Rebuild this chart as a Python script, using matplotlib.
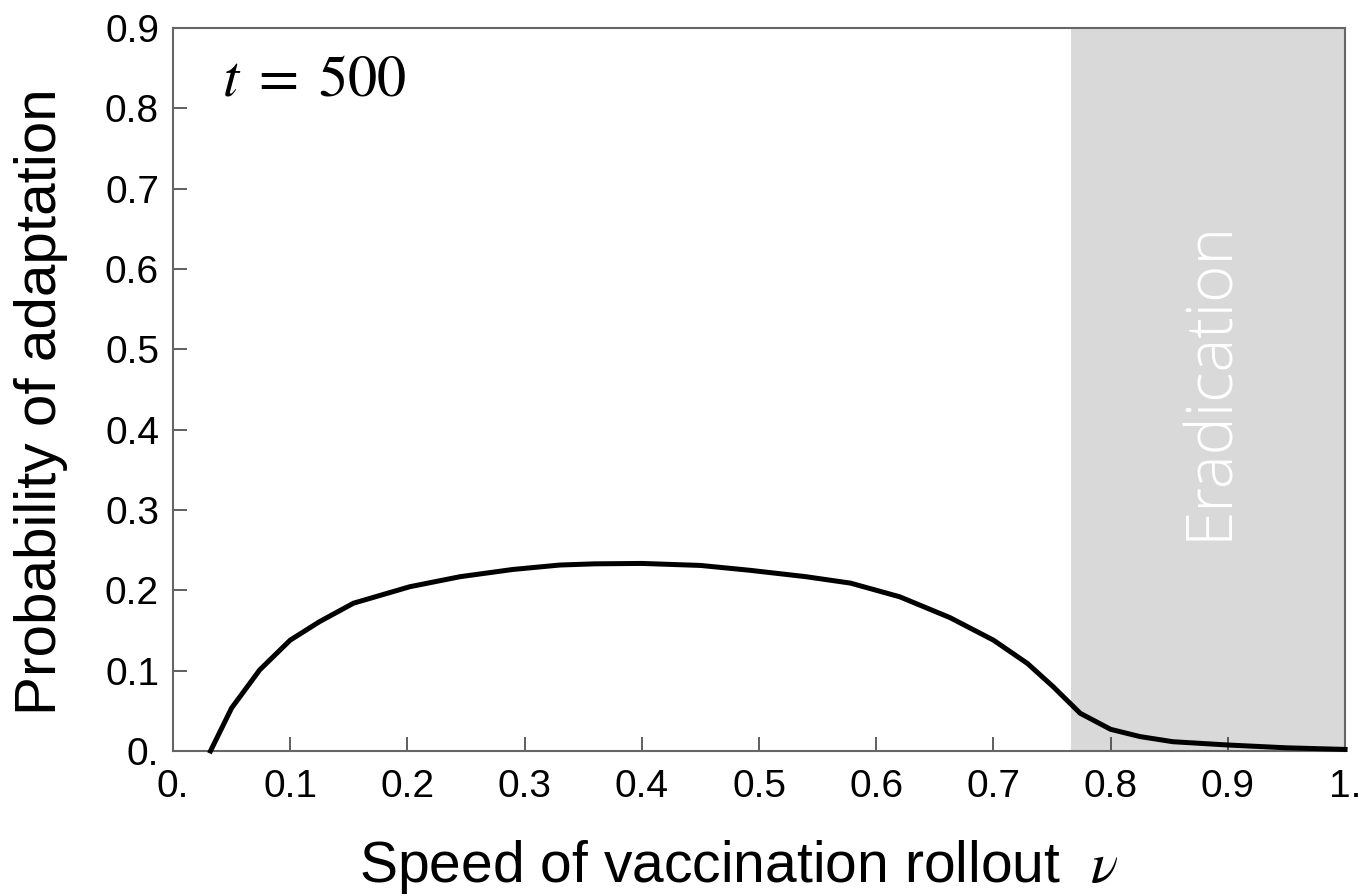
import matplotlib
matplotlib.use('Agg')
import matplotlib.pyplot as plt

# curve
speed = [0.032, 0.05, 0.074, 0.1, 0.125, 0.154, 0.202, 0.245, 0.29, 0.33, 0.36,
         0.4, 0.45, 0.492, 0.54, 0.578, 0.62, 0.663, 0.7, 0.729, 0.751, 0.774,
         0.8, 0.825, 0.853, 0.9, 0.95, 1.0]
prob = [0.0, 0.0535, 0.101, 0.138, 0.161, 0.184, 0.2045, 0.217, 0.226, 0.2315, 0.233,
        0.2335, 0.231, 0.225, 0.217, 0.209, 0.192, 0.166, 0.138, 0.109, 0.080, 0.047,
        0.027, 0.018, 0.0116, 0.0075, 0.004, 0.002]

eradication_start = 0.766
xticks = [0, 0.1, 0.2, 0.3, 0.4, 0.5, 0.6, 0.7, 0.8, 0.9, 1.0]
xtick_labels = ['0.', '0.1', '0.2', '0.3', '0.4', '0.5', '0.6', '0.7', '0.8', '0.9', '1.']
yticks = [0, 0.1, 0.2, 0.3, 0.4, 0.5, 0.6, 0.7, 0.8, 0.9]
ytick_labels = ['0.', '0.1', '0.2', '0.3', '0.4', '0.5', '0.6', '0.7', '0.8', '0.9']

plt.rcParams['font.family'] = 'Liberation Sans'
plt.rcParams['mathtext.fontset'] = 'stix'

fig = plt.figure(figsize=(13.61, 8.96), dpi=100)
ax = fig.add_axes([0.1271, 0.1618, 0.8612, 0.8070])

ax.axvspan(eradication_start, 1.0, color='#d9d9d9', lw=0, zorder=0)
ax.plot(speed, prob, color='black', lw=3.6, solid_joinstyle='round', zorder=3, clip_on=False)

ax.set_xlim(0, 1)
ax.set_ylim(0, 0.9)
ax.set_xticks(xticks)
ax.set_xticklabels(xtick_labels)
ax.set_yticks(yticks)
ax.set_yticklabels(ytick_labels)
ax.tick_params(direction='in', length=10, width=1.2, color='#444444', labelsize=28)
ax.tick_params(axis='x', pad=13)
ax.tick_params(axis='y', pad=10)

for s in ax.spines.values():
    s.set_color('#666666')
    s.set_linewidth(1.5)

ax.set_xlabel(r'Speed of vaccination rollout  $\nu$', fontsize=41)
ax.xaxis.set_label_coords(0.483, -0.12)
ax.set_ylabel('Probability of adaptation', fontsize=42)
ax.yaxis.set_label_coords(-0.0896, 0.483)

ax.text(0.121, 0.835, r'$t\;=\;500$', fontsize=42, ha='center', va='center')
ax.text(0.885, 0.462, 'Eradication', rotation=90, color='white', fontsize=46,
        family='Open Sans', fontweight='light', ha='center', va='center')

plt.savefig('out.png', dpi=100)
